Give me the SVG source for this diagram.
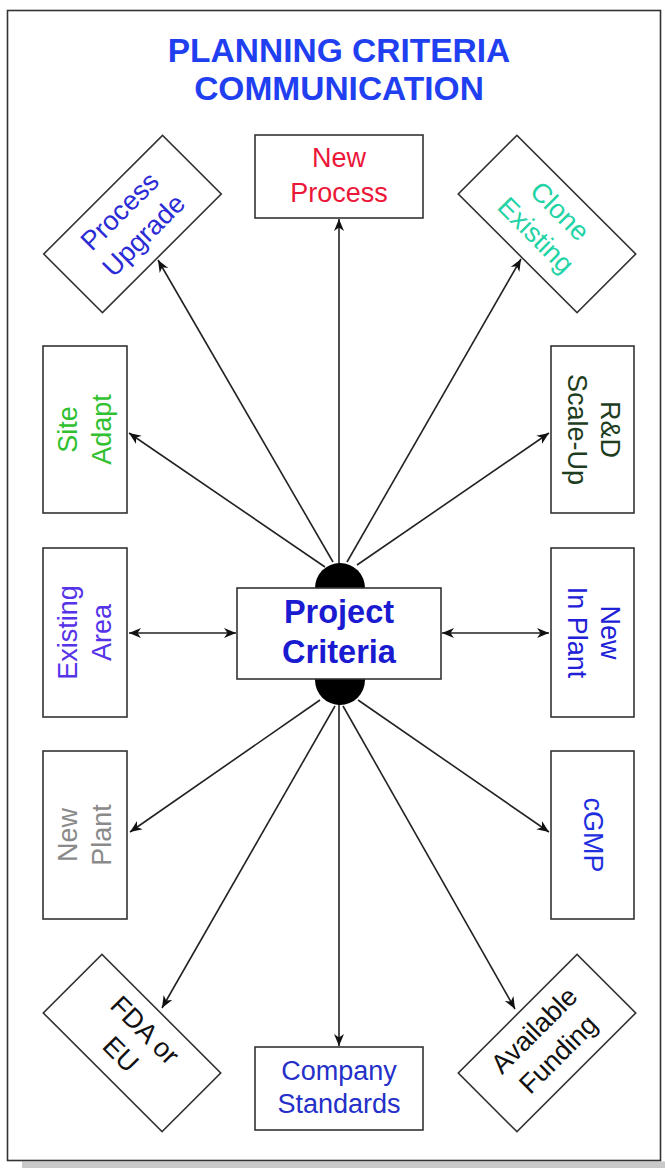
<svg xmlns="http://www.w3.org/2000/svg" width="665" height="1168" viewBox="0 0 665 1168">
  <style>
    .box { fill: #ffffff; stroke: #333333; stroke-width: 1.6; }
    .lbl { font-family: "Liberation Sans", Arial, sans-serif; font-size: 27px; text-anchor: middle; }
    .title { font-family: "Liberation Sans", Arial, sans-serif; font-size: 33.5px; font-weight: bold; fill: #1f3ff0; text-anchor: middle; }
    .hub { font-family: "Liberation Sans", Arial, sans-serif; font-size: 32.5px; font-weight: bold; fill: #1a1ad0; text-anchor: middle; }
    .link { stroke: #222222; stroke-width: 1.6; fill: none; marker-end: url(#arrow); }
    .both { marker-start: url(#arrow); }
  </style>
  <defs>
    <marker id="arrow" viewBox="0 0 13 11" markerWidth="13" markerHeight="11" refX="12" refY="5.5" orient="auto-start-reverse" markerUnits="userSpaceOnUse">
      <path d="M0,0.5 L12,5.5 L0,10.5 L3.5,5.5 Z" fill="#111111"/>
    </marker>
  </defs>

  <!-- page frame and bottom shade -->
  <rect x="0" y="0" width="665" height="1168" fill="#ffffff"/>
  <rect x="22" y="1161.5" width="643" height="6.5" fill="#c9c9c9"/>
  <rect x="7.5" y="10.5" width="653" height="1150" fill="none" stroke="#333333" stroke-width="1.6"/>

  <!-- title -->
  <g id="title">
    <text class="title" x="339" y="62">PLANNING CRITERIA</text>
    <text class="title" x="339" y="100">COMMUNICATION</text>
  </g>

  <!-- connectors -->
  <g id="connectors">
    <line class="link" x1="339" y1="565" x2="339" y2="219"/>
    <line class="link" x1="333" y1="562" x2="158" y2="260"/>
    <line class="link" x1="347" y1="562" x2="521" y2="259"/>
    <line class="link" x1="325" y1="567" x2="129" y2="433"/>
    <line class="link" x1="357" y1="565" x2="549" y2="433"/>
    <line class="link both" x1="129" y1="633" x2="236" y2="633"/>
    <line class="link both" x1="442" y1="633" x2="549" y2="633"/>
    <line class="link" x1="320" y1="700" x2="130" y2="832"/>
    <line class="link" x1="358" y1="700" x2="549" y2="832"/>
    <line class="link" x1="335" y1="706" x2="162" y2="1008"/>
    <line class="link" x1="339" y1="703" x2="339" y2="1046"/>
    <line class="link" x1="343" y1="706" x2="515" y2="1009"/>
  </g>

  <!-- central hub -->
  <g id="project-criteria">
    <rect x="315" y="563" width="50" height="142" rx="25" ry="25" fill="#000000"/>
    <rect class="box" x="237" y="588" width="204" height="91"/>
    <text class="hub" x="339" y="623">Project</text>
    <text class="hub" x="339" y="663">Criteria</text>
  </g>

  <!-- outer nodes -->
  <g id="new-process" transform="translate(339,176.5)">
    <rect class="box" x="-84" y="-41.5" width="168" height="83"/>
    <text class="lbl" y="-9.5" fill="#ec1638">New</text>
    <text class="lbl" y="25" fill="#ec1638">Process</text>
  </g>

  <g id="process-upgrade" transform="translate(132.5,224) rotate(-45)">
    <rect class="box" x="-84" y="-41.5" width="168" height="83"/>
    <text class="lbl" y="-9" fill="#2b2bd6">Process</text>
    <text class="lbl" y="25" fill="#2b2bd6">Upgrade</text>
  </g>

  <g id="clone-existing" transform="translate(547,224) rotate(45)">
    <rect class="box" x="-84" y="-41.5" width="168" height="83"/>
    <text class="lbl" y="-9" fill="#22d3a5">Clone</text>
    <text class="lbl" y="25" fill="#22d3a5">Existing</text>
  </g>

  <g id="site-adapt" transform="translate(85,429.5) rotate(-90)">
    <rect class="box" x="-83.5" y="-42" width="167" height="84"/>
    <text class="lbl" y="-8.5" fill="#30c030">Site</text>
    <text class="lbl" y="26" fill="#30c030">Adapt</text>
  </g>

  <g id="existing-area" transform="translate(85,632.5) rotate(-90)">
    <rect class="box" x="-84.5" y="-42" width="169" height="84"/>
    <text class="lbl" y="-8.5" fill="#5533e8">Existing</text>
    <text class="lbl" y="26" fill="#5533e8">Area</text>
  </g>

  <g id="new-plant" transform="translate(85,835) rotate(-90)">
    <rect class="box" x="-84" y="-42" width="168" height="84"/>
    <text class="lbl" y="-8.5" fill="#8a8a8a">New</text>
    <text class="lbl" y="26" fill="#8a8a8a">Plant</text>
  </g>

  <g id="rd-scale-up" transform="translate(592.5,429.5) rotate(90)">
    <rect class="box" x="-83.5" y="-41.5" width="167" height="83"/>
    <text class="lbl" y="-8.5" fill="#1e3d1e">R&amp;D</text>
    <text class="lbl" y="25" fill="#1e3d1e">Scale-Up</text>
  </g>

  <g id="new-in-plant" transform="translate(592.5,632.5) rotate(90)">
    <rect class="box" x="-84.5" y="-41.5" width="169" height="83"/>
    <text class="lbl" y="-8.5" fill="#2020d8">New</text>
    <text class="lbl" y="25" fill="#2020d8">In Plant</text>
  </g>

  <g id="cgmp" transform="translate(592.5,835) rotate(90)">
    <rect class="box" x="-84" y="-41.5" width="168" height="83"/>
    <text class="lbl" y="9" fill="#1f2fe0">cGMP</text>
  </g>

  <g id="fda-or-eu" transform="translate(132,1043) rotate(45)">
    <rect class="box" x="-84" y="-41.5" width="168" height="83"/>
    <text class="lbl" y="-9" fill="#111111">FDA or</text>
    <text class="lbl" y="25" fill="#111111">EU</text>
  </g>

  <g id="company-standards" transform="translate(339,1088.5)">
    <rect class="box" x="-84" y="-41.5" width="168" height="83"/>
    <text class="lbl" y="-8.5" fill="#2430c8">Company</text>
    <text class="lbl" y="24" fill="#2430c8">Standards</text>
  </g>

  <g id="available-funding" transform="translate(547,1043) rotate(-45)">
    <rect class="box" x="-84" y="-41.5" width="168" height="83"/>
    <text class="lbl" y="-9" fill="#111111">Available</text>
    <text class="lbl" y="25" fill="#111111">Funding</text>
  </g>
</svg>
